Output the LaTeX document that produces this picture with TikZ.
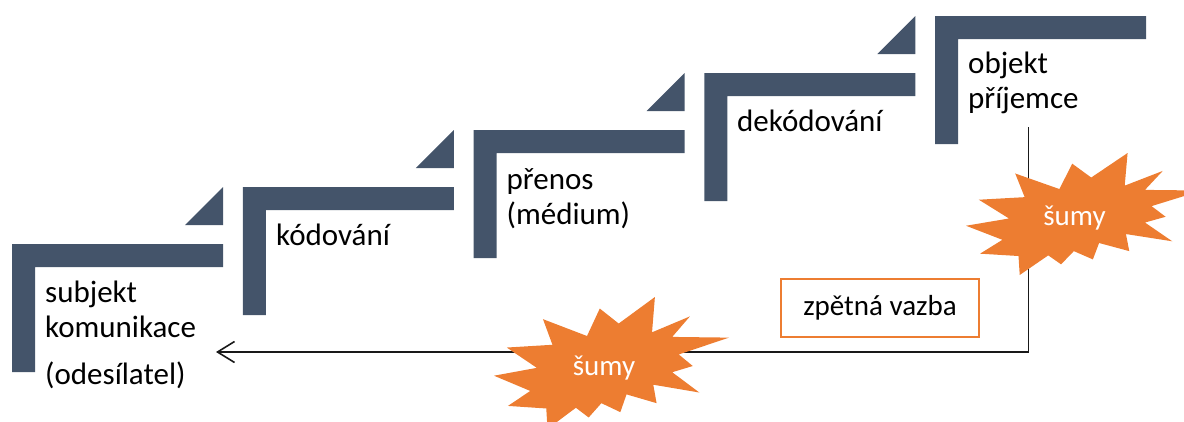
\documentclass[tikz,border=0pt]{standalone}
\usepackage{fontspec}
\setmainfont{Carlito}
\usetikzlibrary{arrows.meta}
\definecolor{stepblue}{HTML}{44546A}
\definecolor{noiseorange}{HTML}{ED7D31}
\newcommand\noisepath{(0.5306,0.2010) -- (0.6847,0) -- (0.6725,0.2675) -- (0.8337,0.1469) -- (0.7583,0.3024) -- (1,0.3076) -- (0.7863,0.4353) -- (0.8458,0.5227) -- (0.7583,0.5699) -- (0.8739,0.7237) -- (0.6778,0.6644) -- (0.6918,0.8042) -- (0.5639,0.7377) -- (0.5376,0.8723) -- (0.4570,0.8042) -- (0.4028,0.9126) -- (0.3485,0.8391) -- (0.2276,1) -- (0.2225,0.8444) -- (0.0595,0.8252) -- (0.1542,0.7116) -- (0,0.5962) -- (0.1822,0.5367) -- (0.0543,0.3829) -- (0.2487,0.3619) -- (0.2084,0.1678) -- (0.3958,0.2955) -- (0.4501,0.0874) -- cycle}
\tikzset{
  stair/.pic={\fill[stepblue] (0,0) -- (211,0) -- (211,23) -- (23,23) -- (23,128) -- (0,128) -- cycle;},
  stairtip/.pic={\fill[stepblue] (211,-57) -- (211,-19) -- (173,-19) -- cycle;},
  steptext/.style={anchor=base west, align=left, inner sep=0pt, font=\fontsize{31}{35}\selectfont},
  noisetext/.style={anchor=base, inner sep=0pt, text=white, font=\fontsize{29}{33}\selectfont},
  fbbox/.style={draw=noiseorange, line width=2pt, fill=white, minimum width=198pt, minimum height=58pt, inner sep=0pt, font=\fontsize{29}{33}\selectfont},
  fbline/.style={line width=1.6pt, draw=black!90},
}
\begin{document}
\begin{tikzpicture}[x=1pt,y=-1pt]
\useasboundingbox (0,0) rectangle (1184,421);
\clip (0,0) rectangle (1184,421);
% stairs
\pic at (12,244) {stair};
\pic at (12,244) {stairtip};
\pic at (242.75,187) {stair};
\pic at (242.75,187) {stairtip};
\pic at (473.5,130) {stair};
\pic at (473.5,130) {stairtip};
\pic at (704.25,73) {stair};
\pic at (704.25,73) {stairtip};
\pic at (935,16) {stair};
% texts (base anchor = baseline of the last line)
\node[steptext] (subj) at (45,384) {subjekt\\komunikace\\[12pt](odesílatel)};
\node[steptext] (kod) at (276,245) {kódování};
\node[steptext] (pren) at (506.5,224) {přenos\\(médium)};
\node[steptext] (dek) at (737,131) {dekódování};
\node[steptext] (obj) at (968,108) {objekt\\příjemce};
% feedback
\coordinate (fbtop) at (1028.5,127);
\coordinate (fbend) at (216,352);
\draw[fbline, -{Straight Barb[length=17pt,width=21pt,line width=1.6pt]}] (fbtop) |- (fbend);
\node[fbbox] (fb) at (880,308) {zpětná vazba};
% noise
\begin{scope}[shift={(966,153)}, xscale=236, yscale=122]
  \fill[noiseorange] \noisepath;
\end{scope}
\node[noisetext] (n1) at (1074.5,225) {šumy};
\begin{scope}[shift={(494,297)}, xscale=235, yscale=132]
  \fill[noiseorange] \noisepath;
\end{scope}
\node[noisetext] (n2) at (604,375) {šumy};
\end{tikzpicture}
\end{document}
